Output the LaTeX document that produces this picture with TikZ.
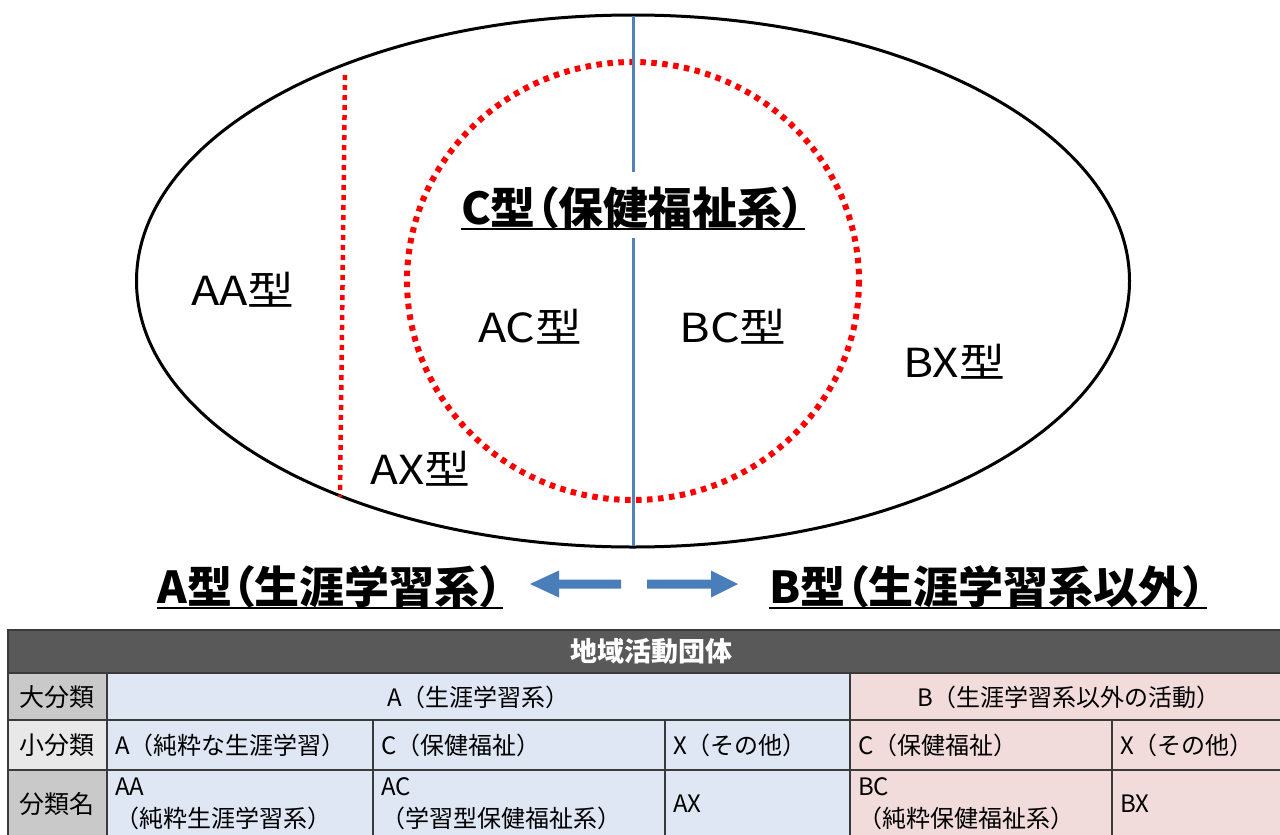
\documentclass[tikz,border=0pt]{standalone}
\usepackage{fontspec}
\usepackage{graphicx}
\setmainfont{Noto Sans CJK JP}
\newfontfamily\jpt[RawFeature=+palt]{Noto Sans CJK JP}
\definecolor{lineblue}{HTML}{4F81BD}
\definecolor{arrowblue}{HTML}{4A7EBB}
\definecolor{cellblue}{HTML}{DFE7F5}
\definecolor{cellpink}{HTML}{F2DCDB}
\definecolor{hdrgray}{HTML}{595959}
\definecolor{labgray}{HTML}{C9C9C9}
\definecolor{labgraylt}{HTML}{E8E8E8}
\definecolor{gridcol}{HTML}{3A3A3A}
\newcommand\fitw[2]{\resizebox{#1}{\height}{#2}}
\begin{document}
\begin{tikzpicture}[x=1pt,y=-1pt,
  lbl/.style={font=\fontsize{40}{42}\selectfont, inner sep=0},
  ttl/.style={font=\jpt\fontsize{44}{46}\selectfont\bfseries, inner sep=0},
  uline/.style={line width=2pt},
  cell/.style={font=\fontsize{24}{32}\selectfont, inner sep=0, anchor=west, align=left},
  celc/.style={font=\fontsize{24}{32}\selectfont, inner sep=0},
  labc/.style={font=\fontsize{25}{30}\selectfont, inner sep=0},
  gridl/.style={draw=gridcol, line width=1.5pt},
  reddots/.style={draw=red, line width=6pt, dash pattern=on 5.5pt off 5.5pt},
  blueline/.style={draw=lineblue, line width=3pt}]
\useasboundingbox (0,0) rectangle (1280,835);
\fill[white] (0,0) rectangle (1280,835);

% ellipse and circle
\draw[line width=3pt] (633,281) ellipse [x radius=496.5, y radius=266];
\draw[reddots] (633,281) ellipse [x radius=226, y radius=219];
\draw[draw=red, line width=4.5pt, dash pattern=on 5pt off 5pt] (345,75) -- (340,497);

% title C
\node[ttl] (ctitle) at (633,208) {\fitw{344pt}{C型（保健福祉系）}};
\draw[uline] (ctitle.south west) -- (ctitle.south east);

% blue vertical line
\coordinate (bt) at (633,16);
\coordinate (bm1) at (633,172);
\coordinate (bm2) at (633,238);
\coordinate (bb) at (633,546);
\draw[blueline] (bt) -- (bm1);
\draw[blueline] (bm2) -- (bb);

% region labels
\node[lbl] (aa) at (243,290) {\fitw{103pt}{AA型}};
\node[lbl] (ac) at (530,327) {\fitw{104pt}{AC型}};
\node[lbl] (bc) at (733,327) {\fitw{107pt}{BC型}};
\node[lbl] (bx) at (954,362) {\fitw{102pt}{BX型}};
\node[lbl] (ax) at (420,469) {\fitw{100pt}{AX型}};

% bottom titles
\node[ttl] (atitle) at (330,587) {\fitw{345pt}{A型（生涯学習系）}};
\draw[uline] (atitle.south west) -- (atitle.south east);
\node[ttl] (btitle) at (988,587) {\fitw{437pt}{B型（生涯学習系以外）}};
\draw[uline] (btitle.south west) -- (btitle.south east);

% arrows
\fill[arrowblue] (530,584) -- (559,570.5) -- (559,579.5) -- (621,579.5) -- (621,588.5) -- (559,588.5) -- (559,597.5) -- cycle;
\fill[arrowblue] (738,584) -- (711,570.5) -- (711,579.5) -- (647,579.5) -- (647,588.5) -- (711,588.5) -- (711,597.5) -- cycle;

% table
\begin{scope}
\clip (0,0) rectangle (1280,835);
\fill[hdrgray] (8,630) rectangle (1292,673);
\fill[labgray] (8,673) rectangle (107,720);
\fill[labgraylt] (8,720) rectangle (107,770);
\fill[labgray] (8,770) rectangle (107,845);
\fill[cellblue] (107,673) rectangle (850,845);
\fill[cellpink] (850,673) rectangle (1292,845);
\draw[gridl] (8,630) rectangle (1292,845);
\draw[gridl] (8,673) -- (1292,673);
\draw[gridl] (8,720) -- (1292,720);
\draw[gridl] (8,770) -- (1292,770);
\draw[gridl] (107,673) -- (107,845);
\draw[gridl] (850,673) -- (850,845);
\draw[gridl] (373,720) -- (373,845);
\draw[gridl] (665,720) -- (665,845);
\draw[gridl] (1112,720) -- (1112,845);
\end{scope}

\node[font=\fontsize{27}{30}\selectfont\bfseries, text=white, inner sep=0] (hdr) at (651,651) {地域活動団体};

\node[labc] (l1) at (57,697) {大分類};
\node[labc] (l2) at (57,745) {小分類};
\node[labc] (l3) at (57,804) {分類名};

\node[celc] (ra) at (478.5,697) {A（生涯学習系）};
\node[celc] (rb) at (1069,697) {B（生涯学習系以外の活動）};

\node[cell] (s1) at (115,745) {A（純粋な生涯学習）};
\node[cell] (s2) at (381,745) {C（保健福祉）};
\node[cell] (s3) at (673,745) {X（その他）};
\node[cell] (s4) at (858,745) {C（保健福祉）};
\node[cell] (s5) at (1120,745) {X（その他）};

\node[cell] (n1) at (115,804) {AA\\（純粋生涯学習系）};
\node[cell] (n2) at (381,804) {AC\\（学習型保健福祉系）};
\node[cell] (n3) at (673,804) {AX};
\node[cell] (n4) at (858,804) {BC\\（純粋保健福祉系）};
\node[cell] (n5) at (1120,804) {BX};
\end{tikzpicture}
\end{document}
